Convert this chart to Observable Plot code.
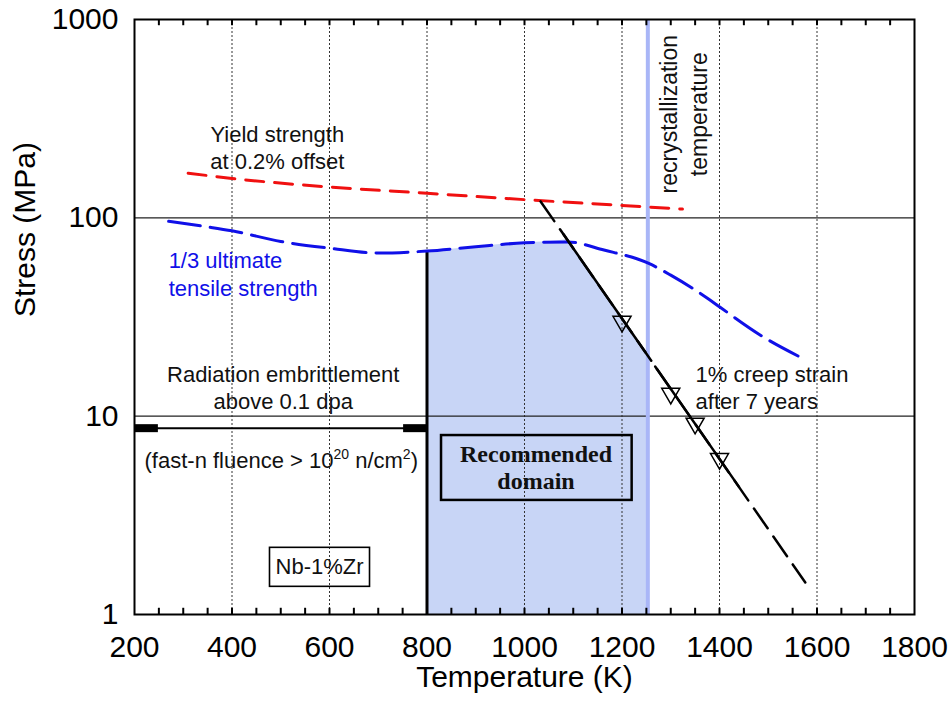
<!DOCTYPE html>
<html><head><meta charset="utf-8">
<script src="https://cdn.jsdelivr.net/npm/d3@7"></script>
<script src="https://cdn.jsdelivr.net/npm/@observablehq/plot@0.6"></script>
<style>body{margin:0;background:#fff}#chart{width:951px;height:704px}</style>
</head><body><div id="chart"></div>
<script>
// ---- axes ----
const xTicks = [200, 400, 600, 800, 1000, 1200, 1400, 1600, 1800];
const yTicks = [1, 10, 100, 1000];
const gridX = [400, 600, 800, 1000, 1200, 1400, 1600];
const gridY = [10, 100];
const minorX = d3.range(250, 1800, 50);
const tickLenFactor = 1.075; // inward tick length on the log y axis (~6 px)

// ---- yield strength at 0.2% offset (red) ----
const yieldT = [310, 400, 600, 800, 1000, 1200, 1324];
const yieldS = [168, 158, 143, 133, 123.5, 115.5, 110.7];

// ---- 1/3 ultimate tensile strength (blue) ----
const utsT = [270, 350, 400, 500, 600, 700, 800, 900, 1000, 1088, 1163, 1255, 1300, 1376, 1402, 1484, 1570];
const utsS = [96, 90, 86, 76, 70.3, 66.4, 68, 71.5, 74.8, 75.6, 68.8, 58.9, 51.4, 39.2, 35.3, 25.6, 19.6];

// ---- 1% creep strain after 7 years (black) ----
const creepT = [1033, 1576];
const creepS = [121, 1.45];
const creepSolidT = [1080, 1248, 1268, 1440];
const creepSolidS = [82.6, 21, 17.8, 4.4];
const creepSolidSeg = ["a", "a", "b", "b"];
const creepDataT = [1200, 1300, 1350, 1400];
const creepDataS = [30, 13, 9.2, 6.1];

// ---- recommended domain ----
const domainT = [800, 850, 900, 950, 1000, 1050, 1086, 1253];
const domainTop = [68, 69.5, 71.5, 73.3, 74.8, 75.8, 77.5, 20];
const domainBottom = 1;
const recrystT = [1253];
const domainEdgeT = [800];
const domainEdgeTop = [68];

// ---- radiation embrittlement arrow ----
const radT1 = [200], radT2 = [800], radS = [8.7];
const radEndT1 = [200, 752], radEndT2 = [249, 800];

// ---- labels ----
const yieldLabel = "Yield strength\nat 0.2% offset";
const utsLabel = "1/3 ultimate\ntensile strength";
const radLabel = "Radiation embrittlement\nabove 0.1 dpa";
const fluenceText = "(fast-n fluence > 1020 n/cm2)";
const fluenceParts = [["(fast-n fluence > 10", false], ["20", true], [" n/cm", false], ["2", true], [")", false]];
const alloyLabel = "Nb-1%Zr";
const domainLabel = "Recommended\ndomain";
const recrystLabel = "recrystallization\ntemperature";
const creepLabel = "1% creep strain\nafter 7 years";
const xLabel = "Temperature (K)";
const yLabel = "Stress (MPa)";

const zip = (a, b) => a.map((v, i) => ({t: v, s: b[i]}));
const at = (t, s, label) => [{t, s, label}];

const sans = "'Liberation Sans', Arial, sans-serif";

const plot = Plot.plot({
  width: 951, height: 704,
  marginLeft: 134, marginRight: 37, marginTop: 19, marginBottom: 90,
  style: {fontFamily: sans, fontSize: "22px", color: "black", background: "white"},
  x: {type: "linear", domain: [200, 1800]},
  y: {type: "log", domain: [1, 1000]},
  marks: [
    Plot.areaY(zip(domainT, domainTop), {x: "t", y1: domainBottom, y2: "s", fill: "#c8d5f6"}),
    Plot.ruleX(gridX, {stroke: "#333", strokeWidth: 1, strokeDasharray: "2,2"}),
    Plot.ruleY(gridY, {stroke: "#222", strokeWidth: 1.2}),
    Plot.ruleX(recrystT, {stroke: "#a9b6f7", strokeWidth: 4}),
    Plot.ruleX(zip(domainEdgeT, domainEdgeTop), {x: "t", y1: 1, y2: "s", stroke: "black", strokeWidth: 3}),
    Plot.line(zip(yieldT, yieldS), {x: "t", y: "s", stroke: "#f01010", strokeWidth: 3, strokeDasharray: "18,11", curve: "monotone-x"}),
    Plot.line(zip(utsT, utsS), {x: "t", y: "s", stroke: "#1010e8", strokeWidth: 3, strokeDasharray: "32,10", curve: "monotone-x"}),
    Plot.line(zip(creepT, creepS), {x: "t", y: "s", stroke: "black", strokeWidth: 2.5, strokeDasharray: "24,10"}),
    Plot.line(creepSolidT.map((t, i) => ({t, s: creepSolidS[i], g: creepSolidSeg[i]})), {x: "t", y: "s", z: "g", stroke: "black", strokeWidth: 2.5}),
    Plot.dot(zip(creepDataT, creepDataS), {x: "t", y: "s", symbol: "triangle", r: 6.7, rotate: 180, stroke: "black", fill: "none", strokeWidth: 1.5}),
    Plot.ruleY(radS.map((s, i) => ({s, a: radT1[i], b: radT2[i]})), {y: "s", x1: "a", x2: "b", stroke: "black", strokeWidth: 2}),
    Plot.ruleY(radEndT1.map((a, i) => ({a, b: radEndT2[i], s: radS[0]})), {y: "s", x1: "a", x2: "b", stroke: "black", strokeWidth: 8}),
    // annotations
    Plot.text(at(493, 229, yieldLabel), {x: "t", y: "s", text: "label", lineHeight: 1.23, fill: "#111"}),
    Plot.text(at(270, 52.9, utsLabel), {x: "t", y: "s", text: "label", textAnchor: "start", lineHeight: 1.3, fill: "#1010e8"}),
    Plot.text(at(505, 14.06, radLabel), {x: "t", y: "s", text: "label", lineHeight: 1.23, fill: "#111"}),
    Plot.text(at(501, 5.92, fluenceText), {x: "t", y: "s", text: "label", fill: "#111"}),
    Plot.text(at(579.5, 1.73, alloyLabel), {x: "t", y: "s", text: "label", fill: "#111"}),
    Plot.text(at(1023.6, 5.55, domainLabel), {x: "t", y: "s", text: "label", fontFamily: "'Liberation Serif', 'Times New Roman', serif", fontWeight: "bold", fontSize: 24, lineHeight: 1.12, fill: "#111"}),
    Plot.text(at(1324, 333, recrystLabel), {x: "t", y: "s", text: "label", rotate: -90, fontSize: 23, lineHeight: 1.3, fill: "#111"}),
    Plot.text(at(1351, 14.06, creepLabel), {x: "t", y: "s", text: "label", textAnchor: "start", lineHeight: 1.23, fill: "#111"}),
    // frame, inward minor ticks, axes
    Plot.frame({stroke: "black", strokeWidth: 2}),
    Plot.ruleX(minorX, {y1: 1, y2: tickLenFactor, stroke: "black", strokeWidth: 2}),
    Plot.ruleX(minorX, {y1: 1000 / tickLenFactor, y2: 1000, stroke: "black", strokeWidth: 2}),
    Plot.axisX({ticks: xTicks, tickSize: 0, tickPadding: 21, fontSize: 30, label: null, tickFormat: d => String(d)}),
    Plot.axisY({ticks: yTicks, tickSize: 0, tickPadding: 16, fontSize: 30, label: null, tickFormat: d => String(d)}),
    Plot.text([xLabel], {frameAnchor: "bottom", dy: 72, text: d => d, fontSize: 30}),
    Plot.text([yLabel], {frameAnchor: "left", dx: -109, rotate: -90, text: d => d, fontSize: 30})
  ]
});
document.getElementById("chart").append(plot);

const svg = d3.select(plot);
// superscripts
svg.selectAll("text").filter(function () { return this.textContent === fluenceText; }).each(function () {
  const t = d3.select(this);
  t.text(null);
  let raised = false;
  fluenceParts.forEach(([s, sup]) => {
    const sp = t.append("tspan").text(s);
    if (sup && !raised) { sp.attr("dy", -9).attr("font-size", 14); raised = true; }
    else if (!sup && raised) { sp.attr("dy", 9); raised = false; }
  });
});
// boxes around labels
function boxAround(content, padX, padY, sw) {
  svg.selectAll("text").filter(function () { return this.textContent === content; }).each(function () {
    const b = this.getBBox();
    const r = document.createElementNS("http://www.w3.org/2000/svg", "rect");
    r.setAttribute("x", b.x - padX);
    r.setAttribute("y", b.y - padY);
    r.setAttribute("width", b.width + 2 * padX);
    r.setAttribute("height", b.height + 2 * padY);
    r.setAttribute("fill", "none");
    r.setAttribute("stroke", "black");
    r.setAttribute("stroke-width", sw);
    const tr = this.getAttribute("transform");
    if (tr) r.setAttribute("transform", tr);
    this.parentNode.insertBefore(r, this);
  });
}
boxAround(alloyLabel, 6, 7, 1.6);
boxAround(domainLabel.replace("\n", ""), 19, 6, 2.5);
</script>
</body></html>
